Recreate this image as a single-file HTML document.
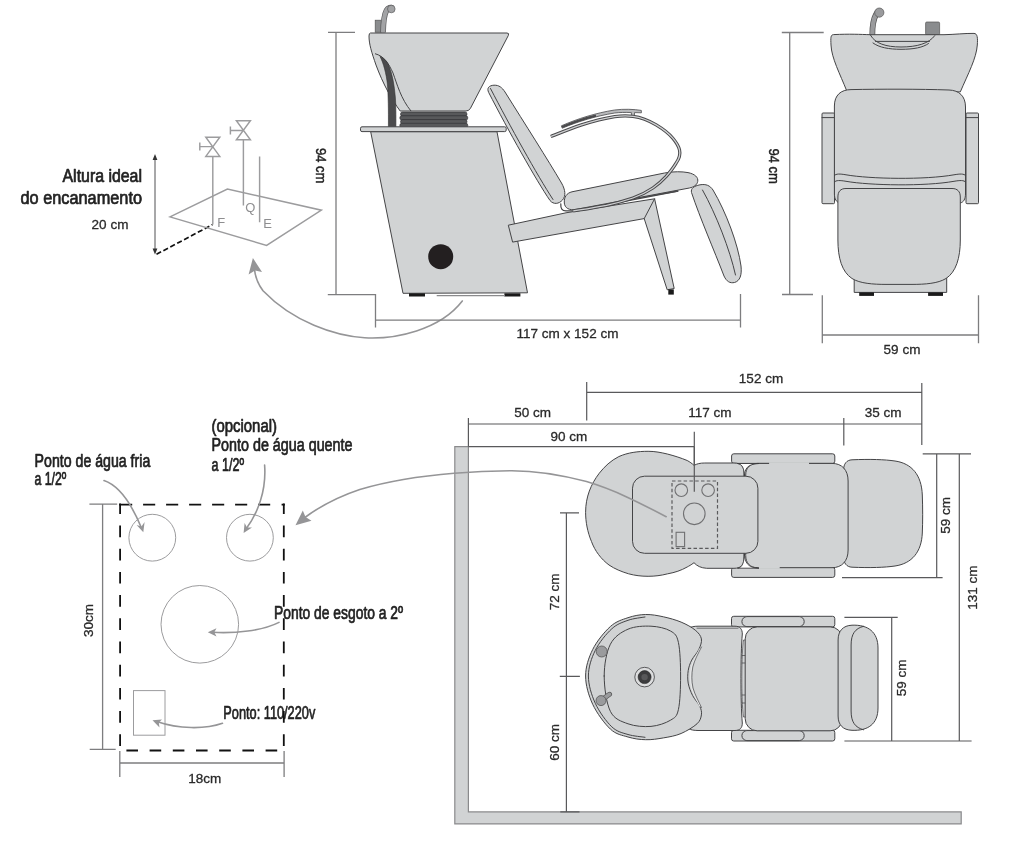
<!DOCTYPE html>
<html>
<head>
<meta charset="utf-8">
<title>Lavatorio - dimensoes</title>
<style>
html,body{margin:0;padding:0;background:#fff;}
body{width:1024px;height:848px;overflow:hidden;font-family:"Liberation Sans",sans-serif;}
svg{display:block;will-change:transform;opacity:0.999;}
text{font-family:"Liberation Sans",sans-serif;}
.lbl{font-size:17.5px;fill:#222;stroke:#222;stroke-width:0.7px;stroke-linejoin:round;}
.dim{font-size:13.5px;fill:#2a2a2a;stroke:#2a2a2a;stroke-width:0.3px;}
.f{fill:#d1d3d4;stroke:#444446;stroke-width:1;stroke-linejoin:round;}
.ln{fill:none;stroke:#444446;stroke-width:1;stroke-linecap:round;stroke-linejoin:round;}
.dl{fill:none;stroke:#7d7d7f;stroke-width:1.3;}
.dk{fill:none;stroke:#59595b;stroke-width:1.2;}
.g{fill:none;stroke:#9c9c9e;stroke-width:1.45;}
.ar{fill:none;stroke:#959597;stroke-width:1.6;stroke-linecap:round;}
.ah{fill:#959597;stroke:none;}
</style>
</head>
<body>
<svg width="1024" height="848" viewBox="0 0 1024 848">
<rect x="0" y="0" width="1024" height="848" fill="#ffffff"/>

<!-- ================= TOP-LEFT : PIPING HEIGHT ================= -->
<g id="piping">
  <text class="lbl" x="142" y="182" text-anchor="end" textLength="79.5" lengthAdjust="spacingAndGlyphs">Altura ideal</text>
  <text class="lbl" x="142" y="203.6" text-anchor="end" textLength="121.5" lengthAdjust="spacingAndGlyphs">do encanamento</text>
  <text class="dim" x="110" y="228.6" text-anchor="middle" fill="#222">20 cm</text>
  <!-- vertical arrow -->
  <path d="M155,157 V252" stroke="#505052" stroke-width="1" fill="none"/>
  <path d="M155,154 L152.6,160 L157.4,160 Z" fill="#333"/>
  <path d="M155,254.5 L152.6,248.5 L157.4,248.5 Z" fill="#333"/>
  <path d="M156.5,254.3 L212.5,224.6" stroke="#111" stroke-width="1.7" stroke-dasharray="5.2 2.6" fill="none"/>
  <!-- floor plane -->
  <path class="g" d="M170,216.9 L227.4,189 L321.4,210.2 L266.6,245.4 Z"/>
  <!-- pipes -->
  <path class="g" d="M212.8,156.4 V224.5 M243.4,139.8 V205.6 M259.6,156.4 V222.2"/>
  <!-- valves -->
  <path class="g" d="M205.8,137.2 H219.8 L205.8,156.4 H219.8 Z M199.6,146.6 H212.8 M199.8,142.6 V150.6" stroke-linejoin="miter"/>
  <path class="g" d="M236.4,120.8 H250.4 L236.4,139.8 H250.4 Z M230.2,130.4 H243.4 M230.4,126.4 V134.4" stroke-linejoin="miter"/>
  <text x="217.3" y="227.4" font-size="13" fill="#8e8e90">F</text>
  <text x="245.3" y="212" font-size="13" fill="#8e8e90">Q</text>
  <text x="263.2" y="228.4" font-size="13" fill="#8e8e90">E</text>
  <!-- curved arrow from cabinet -->
  <path class="ar" d="M462.3,301 C440,330 395,339.500 364.600,337.800 C335,336 293,322 263,290.800 C258,284 255,276 254.300,268"/>
  <path class="ah" d="M252.9,258 L248.6,274.6 L255,270.4 L262,272 Z"/>
</g>

<!-- ================= TOP-CENTER : SIDE VIEW ================= -->
<g id="side">
  <!-- dimension -->
  <path class="dl" d="M328,32.4 H355 M336,32.4 V295 M327.800,294.600 H375.500 V327.600 M375.500,320.200 H740.500 M740.500,294 V327.600"/>
  <text transform="translate(315.600,165.700) rotate(90)" text-anchor="middle" font-size="14" fill="#222" stroke="#222" stroke-width="0.45" textLength="35.500" lengthAdjust="spacingAndGlyphs">94 cm</text>
  <text class="dim" x="567.5" y="337.8" text-anchor="middle" fill="#333">117 cm x 152 cm</text>

  <!-- faucet -->
  <rect x="375.2" y="20.2" width="6" height="12" fill="#8a8c8e" stroke="#555" stroke-width="0.7"/>
  <path d="M383.100,32.500 C383.300,22 384.500,14 386.500,10.300 C388,7.500 391,7 392.500,8.200" fill="none" stroke="#5a5a5c" stroke-width="5.600" stroke-linecap="butt"/>
  <path d="M383.100,32.500 C383.300,22 384.500,14 386.500,10.300 C388,7.500 391,7 392.500,8.200" fill="none" stroke="#a2a3a5" stroke-width="4.300" stroke-linecap="butt"/>
  <circle cx="391.300" cy="9" r="3.800" fill="#a2a3a5" stroke="#5a5a5c" stroke-width="0.7"/>

  <!-- basin -->
  <path class="f" d="M370.500,33 H507 Q509.500,33 508.300,35.500 L470.500,108.200 Q469,111 466,111 H400.200 C392,100 383,84 376,65 C371.500,52 369,44 369,36 Q369,33 370.500,33 Z"/>
  <path class="ln" d="M375.400,53.800 C384,56 389,64 393,73 C397,84 401,99 410.800,110.800"/>
  <!-- hose -->
  <path d="M380,56.400 C383.500,63 386.300,74 387.400,84 C388.300,95 388.500,110 388.400,127.300 H395.900 C396,115 395.900,105 395.300,97 C394.300,85 392.500,74 388.400,64.500 C386.500,60.500 383.500,57.500 380,56.400 Z" fill="#4b4b4d" stroke="#333" stroke-width="0.6"/>
  <!-- bellows -->
  <g fill="#58595b" stroke="#2e2e30" stroke-width="0.6">
    <rect x="400.500" y="112" width="66.500" height="4.200" rx="2"/>
    <rect x="399.800" y="115.800" width="68" height="4.200" rx="2"/>
    <rect x="400.500" y="119.600" width="66.500" height="4.200" rx="2"/>
    <rect x="399.800" y="123.300" width="68" height="4.200" rx="2"/>
  </g>
  <!-- shelf -->
  <rect class="f" x="360.500" y="126.800" width="145.700" height="4.800" rx="1.500"/>
  <!-- cabinet -->
  <path class="f" d="M370.700,131.800 H497 L527.500,292.800 L403,293.300 Z"/>
  <circle cx="440.700" cy="256.700" r="12.500" fill="#231f20"/>
  <rect x="409" y="293.300" width="16" height="3.200" fill="#1a1a1a"/>
  <rect x="504.400" y="293.300" width="16" height="3.200" fill="#1a1a1a"/>
  <path d="M436.700,295.600 H505" stroke="#8a8a8c" stroke-width="1.200" fill="none"/>

  <!-- support beam + leg -->
  <path class="f" d="M508.300,225.200 L566,212.800 L654.600,198.800 L674.200,288.500 L667.200,289.800 L644.200,218.600 L512.600,242.100 Z"/>
  <path class="ln" d="M644.200,218.600 L654.600,198.800"/>
  <rect x="668.300" y="289.400" width="5.500" height="5.200" fill="#1a1a1a"/>

  <!-- seat frame line (under seat) -->
  <path class="ln" d="M560.800,203.800 C560.500,208.500 562,210.800 566,210.900 C570,211 573,211 576,210.600 L678,191.200" style="stroke-width:1.200"/>
  <path d="M619.700,200.300 L677.800,190.600" stroke="#4a4a4c" stroke-width="2.200" fill="none"/>

  <!-- backrest -->
  <path class="f" d="M488.700,92.500 C486.500,88 489,85.500 494,85.200 C499,85 502,87.500 505,92 C525,124 548,160 561.500,183 C565.500,190 566,196 562.500,200 C559,204 553.500,204.800 550,200.500 C536,180 508,130 488.700,92.500 Z"/>
  <path class="ln" d="M490.500,88.500 C510,126 537,175 553,199.500"/>
  <!-- seat cushion -->
  <path class="f" d="M564.300,203 C564,197 566.500,193.200 572,191.800 L664.500,173 C674,171.300 682,171.500 688,172.600 C695,174 698.500,177.500 697.700,181.500 C697,185 694,187 689.400,188 L576,209.400 C569,210.600 564.800,208 564.300,203 Z"/>

  <!-- armrest pad -->
  <path d="M561.400,125.800 C578,118.500 596,113 614.500,110 C624,108.800 634,109.200 641.300,110.400 L641.400,112.800 L634.500,112.600 L634.400,116 L631.400,116 L631.400,112.600 C625,112.200 620,112.500 614.800,113 C596,116 578,121.500 562.200,128.200 Z" fill="#b9babc" stroke="#4a4a4c" stroke-width="0.8" stroke-linejoin="round"/>
  <path d="M562,127 C574,122 585,118.300 596,115.600" stroke="#4a4a4c" stroke-width="2.200" fill="none"/>
  <!-- armrest tube -->
  <path id="tube" d="M550.800,136.500 C561,132.500 571,128.500 581.500,124.900 C592,121.500 603,118.500 614.700,116.600 C621,115.800 627,115.700 633,116.300 C641,117.300 649,120.500 656.200,124.900 C663,129 668.500,133 672.800,138.200 C676,142 678.500,146 679.500,149.800 C680.500,154 679,159 676.100,163.100 C673.500,167.500 670,172 666.200,176.400 C662,181 658,184.500 652.900,188 C647,192 640,195.500 633,198 C624,201 615,203.500 606.400,205.400 C595,207.500 584,209.500 573.200,210.900" fill="none" stroke="#4a4a4c" stroke-width="3.300" stroke-linecap="butt"/>
  <path d="M550.800,136.500 C561,132.500 571,128.500 581.500,124.900 C592,121.500 603,118.500 614.700,116.600 C621,115.800 627,115.700 633,116.300 C641,117.300 649,120.500 656.200,124.900 C663,129 668.500,133 672.800,138.200 C676,142 678.500,146 679.500,149.800 C680.500,154 679,159 676.100,163.100 C673.500,167.500 670,172 666.200,176.400 C662,181 658,184.500 652.900,188 C647,192 640,195.500 633,198 C624,201 615,203.500 606.400,205.400 C595,207.500 584,209.500 573.200,210.900" fill="none" stroke="#cfd0d2" stroke-width="1.300" stroke-linecap="butt"/>

  <!-- legrest -->
  <path class="f" d="M691.500,192.500 C690.500,188.500 694,186 700,184.800 C706,183.800 710,185.500 713,190 C726,212 738,244 741,266 C742,275 740,281 734.500,282.500 C730,283.500 726.500,281.500 724,276 C714,250 700,218 691.500,192.500 Z"/>
  <path class="ln" d="M702.500,190 C716,214 730,250 735.500,275"/>
</g>


<!-- ================= TOP-RIGHT : FRONT VIEW ================= -->
<g id="front">
  <path class="dl" d="M781.800,32.500 H823.700 M789.700,32.500 V294.500 M782,294.500 H813 M822.300,295.300 V343.300 M978.500,295.300 V343.300 M822.300,335 H978.500"/>
  <text transform="translate(768.800,166.200) rotate(90)" text-anchor="middle" font-size="14" fill="#222" stroke="#222" stroke-width="0.45" textLength="35.500" lengthAdjust="spacingAndGlyphs">94 cm</text>
  <text class="dim" x="902" y="353.700" text-anchor="middle" fill="#333">59 cm</text>

  <!-- faucet -->
  <path d="M872.300,35 C872.300,27 873.500,19 876,14.500 C877.500,12 879,11.500 880,12" fill="none" stroke="#555" stroke-width="5.800"/>
  <path d="M872.300,35 C872.300,27 873.500,19 876,14.500 C877.500,12 879,11.500 880,12" fill="none" stroke="#9a9b9d" stroke-width="4.400"/>
  <circle cx="879.300" cy="12.600" r="4.600" fill="#9a9b9d" stroke="#555" stroke-width="0.7"/>
  <!-- knob -->
  <rect x="925.600" y="22" width="14" height="13" rx="1.200" fill="#8a8c8e" stroke="#555" stroke-width="0.7"/>
  <!-- basin -->
  <path class="f" d="M833.500,34.600 C850,33.800 860,34.400 870,34.700 H944 C955,34.500 965,33.200 974,33.400 C977.500,33.500 977.800,38 977.300,45 C976.500,58 968,74 960.300,91.900 L846.800,91 C840,74 831.500,58 831,45 C830.700,38 830.500,34.800 833.500,34.600 Z"/>
  <path class="ln" d="M870.500,35.200 C875,43.500 886,47 901,47 C917,47 929,43.500 934.800,35.600"/>
  <path class="ln" d="M875.500,41.400 H929.500"/>
  <path class="ln" d="M873,43 C879,47.500 889,49.300 901,49.300 C914,49.300 923,47.500 928.500,43.500"/>
  <!-- side armrests -->
  <rect class="f" x="822" y="113" width="12.500" height="90.700" rx="1"/>
  <rect class="f" x="966" y="113" width="12.500" height="90.700" rx="1"/>
  <path class="ln" d="M822,117.600 H834.500 M966,117.600 H978.500"/>
  <!-- backrest -->
  <path class="f" d="M834.400,194 V106 C834.400,95 841,89.700 851,89.600 C880,89 920,89 949,90 C959,90.300 965.500,96 965.500,107 V194 C965.500,199 963.500,202.500 960,203 H840 C836.500,202.500 834.400,199 834.400,194 Z"/>
  <path class="ln" d="M834.400,175.500 C836,173.500 840,173.800 846,174.800 C870,179 925,180 954,174.800 C960,173.800 964,173.500 965.500,175.500"/>
  <path class="ln" d="M834.400,182 C836,180 840,180.300 846,181.300 C870,185.500 925,186.500 954,181.300 C960,180.300 964,180 965.500,182"/>
  <!-- base -->
  <rect class="f" x="854.200" y="275" width="92.500" height="17.400"/>
  <rect x="859.200" y="292.400" width="14.800" height="3.500" fill="#1a1a1a"/>
  <rect x="928.100" y="292.400" width="14.900" height="3.500" fill="#1a1a1a"/>
  <!-- seat/legrest -->
  <path class="f" d="M846,188.500 H952 C957.500,188.500 960.300,191.500 960.300,197 V240 C960.300,258 956,272 946,278.500 C938,283.500 925,284.400 912,284.400 H886 C873,284.400 860,283.500 852,278.500 C842,272 837.900,258 837.900,240 V197 C837.900,191.500 840.500,188.500 846,188.500 Z"/>
</g>

<!-- ================= BOTTOM-LEFT : DETAIL ================= -->
<g id="detail">
  <text class="lbl" x="211.500" y="431.600" textLength="65.500" lengthAdjust="spacingAndGlyphs">(opcional)</text>
  <text class="lbl" x="211.500" y="451.300" textLength="141" lengthAdjust="spacingAndGlyphs">Ponto de água quente</text>
  <text class="lbl" x="211.500" y="470.900" textLength="32.500" lengthAdjust="spacingAndGlyphs">a 1/2º</text>
  <text class="lbl" x="34.600" y="467.400" textLength="115.700" lengthAdjust="spacingAndGlyphs">Ponto de água fria</text>
  <text class="lbl" x="34.500" y="485.300" textLength="31.800" lengthAdjust="spacingAndGlyphs">a 1/2º</text>
  <text class="lbl" x="274.100" y="619.400" textLength="129" lengthAdjust="spacingAndGlyphs">Ponto de esgoto a 2º</text>
  <text class="lbl" x="223.300" y="718.800" textLength="92" lengthAdjust="spacingAndGlyphs">Ponto: 110/220v</text>

  <!-- dims -->
  <path class="dl" d="M89.400,504.200 H117.200 M102.600,504.200 V749.300 M89.700,749.300 H115.700 M119.800,751 V777 M284.100,751 V777 M119.800,763 H284.100"/>
  <text class="dim" transform="translate(92.800,620.500) rotate(-90)" text-anchor="middle" fill="#2a2a2a" stroke="#2a2a2a" stroke-width="0.3" font-size="13.500">30cm</text>
  <text class="dim" x="204.700" y="783.400" text-anchor="middle" fill="#2a2a2a" stroke="#2a2a2a" stroke-width="0.3" font-size="13.500">18cm</text>

  <!-- dashed box -->
  <g fill="none" stroke="#111" stroke-width="1.8">
    <path d="M119.100,504.600 H284.800" stroke-dasharray="13.100 10.900 12.100 10.900 12.100 10.900 12.100 10.900 12.100 10.900 12.100 10.900 12.100 11.400 4"/>
    <path d="M126.400,750.500 H277.400" stroke-dasharray="11.600 11.600"/>
    <path d="M120.100,503.600 V750 M283.800,503.600 V750" stroke-dasharray="11.700 11.500" stroke-dashoffset="1.300"/>
  </g>

  <!-- circles -->
  <circle class="g" cx="152.300" cy="537.700" r="23.400" stroke="#a6a6a8" style="stroke-width:1"/>
  <circle class="g" cx="249.900" cy="537.700" r="23.400" stroke="#a6a6a8" style="stroke-width:1"/>
  <circle class="g" cx="199.800" cy="624.300" r="38.800" stroke="#a6a6a8" style="stroke-width:1"/>
  <rect class="g" x="133.500" y="690.600" width="31.500" height="44.600" stroke="#a6a6a8" style="stroke-width:1"/>

  <!-- label arrows -->
  <path class="ar" d="M104,480.600 C120,486 132,505 141.500,528"/>
  <path class="ah" d="M143.300,532.300 L136.600,525 L141.500,526.500 L144.600,522 Z"/>
  <path class="ar" d="M264.600,465 C266.500,490 258,513 246,529"/>
  <path class="ah" d="M243.600,533 L244.600,523 L247,527.500 L252,527.500 Z"/>
  <path class="ar" d="M279,622.400 C262,631 235,633.500 212.500,632.300"/>
  <path class="ah" d="M207.800,632.200 L216.500,628.200 L214.300,632.300 L216.500,636.600 Z"/>
  <path class="ar" d="M222.500,723.300 C205,729.500 178,729 157.500,721.800"/>
  <path class="ah" d="M152.500,720.300 L162,719.500 L158.800,722.500 L159.500,727.500 Z"/>

</g>

<!-- ================= BOTTOM-RIGHT : PLAN VIEW ================= -->
<g id="plan">
  <!-- wall -->
  <path d="M454.800,446.600 H468.400 V811.900 H961.200 V823.900 H454.800 Z" fill="#d1d3d4" stroke="#8a8a8c" stroke-width="1.200"/>

  <!-- dims -->
  <path class="dk" d="M586.700,392.300 H921.800 M586.700,382 V420.500 M921.800,383 V445 M468.400,424 H921.800 M468.400,418 V446.400 M843.800,418 V445.500 M468.400,446.700 H694.300 M694.300,431.800 V491.800"/>
  <path class="dk" d="M922.700,453.800 H971 M936.700,453.800 V577.700 M842,577.700 H942.600 M959.300,453.800 V741 M844.400,617.300 H897.700 M891.700,617.300 V741 M844.400,741 H971.600"/>
  <path class="dk" d="M560,512.900 H579 M566.400,512.900 V811.900 M559.800,676.300 H579.900 M560.300,811.900 H579.500"/>
  <text class="dim" x="761" y="383.400" text-anchor="middle">152 cm</text>
  <text class="dim" x="532.600" y="417.100" text-anchor="middle">50 cm</text>
  <text class="dim" x="709.900" y="417.100" text-anchor="middle">117 cm</text>
  <text class="dim" x="883.100" y="417.100" text-anchor="middle">35 cm</text>
  <text class="dim" x="568.900" y="441.200" text-anchor="middle">90 cm</text>
  <text class="dim" transform="translate(950.200,515.300) rotate(-90)" text-anchor="middle">59 cm</text>
  <text class="dim" transform="translate(976.700,587.700) rotate(-90)" text-anchor="middle">131 cm</text>
  <text class="dim" transform="translate(906.400,677.900) rotate(-90)" text-anchor="middle">59 cm</text>
  <text class="dim" transform="translate(559.300,591.800) rotate(-90)" text-anchor="middle">72 cm</text>
  <text class="dim" transform="translate(559.300,742.300) rotate(-90)" text-anchor="middle">60 cm</text>

  <!-- ===== upper chair (underside) ===== -->
  <rect class="f" x="731.600" y="453.800" width="103.200" height="9.600" rx="2.200"/>
  <rect class="f" x="731.600" y="567.400" width="103.200" height="10" rx="2.200"/>
  <!-- basin outer shape with neck -->
  <path class="f" d="M694,465.400 C697,463.800 700,463 704.800,463 H734 C741,463 744,466.500 744,472.500 V559 C744,565 741,568.300 734,568.300 H706.700 C701,568 697,566 694,562.700 C691,565 689,566 687.200,567 C681,570.500 675,572.500 667.700,573.800 C661,575.500 655,576.300 648.100,576.300 C641,576.300 635,575.500 628.600,573.800 C621,571.500 615,569 609,565 C601,559 595,551 591.500,541.600 C587.500,532 585.600,522 585.600,512.300 C585.600,497 591,484 599.300,473.200 C604.500,466.500 611,460.500 618.800,456.600 C628,452.500 638,451.300 648.100,451.300 C655,451.300 661,452.500 667.700,454.100 C675,456 681,458 687.200,460.500 C690,462 692,463.500 694,465.400 Z"/>
  <!-- legrest -->
  <path class="f" d="M852,459.800 C870,459 885,459.500 895,461 C912,463.500 921.500,475 922.300,495 C922.800,508 922.800,522 922.300,533 C921.500,552 912,563.500 895,566 C885,567.500 870,568 852,567.200 C846.500,567 843.600,563 843.600,557 V470 C843.600,464 846.500,460 852,459.800 Z"/>
  <!-- seat -->
  <path class="f" d="M757.500,463.400 H832 C842,463.400 848.100,470 848.100,481 V550 C848.100,561 842,567.700 832,567.700 H757.500 C750,567.700 745.700,563 745.700,555.500 V475 C745.700,468 750,463.400 757.500,463.400 Z"/>
  <path d="M769.100,463.400 H809 M758.600,567.600 H779.700" stroke="#d1d3d4" stroke-width="2.200" fill="none"/>
  <!-- white gaps between neck, seat and armrests -->
  <path d="M737.500,463.500 C742.500,464 744.200,469 744.400,476.300 C744.800,469 747,464 759,463.500 Z" fill="#fff" stroke="#3a3a3c" stroke-width="0.9" stroke-linejoin="round"/>
  <path d="M737.500,568.200 C742.500,567.700 744.200,562 744.400,553.200 C744.800,562 747,567.700 759,568.200 Z" fill="#fff" stroke="#3a3a3c" stroke-width="0.9" stroke-linejoin="round"/>
  <!-- inner plate -->
  <rect class="f" x="632.500" y="476.200" width="125.400" height="77.100" rx="12"/>
  <!-- dashed box & points -->
  <rect x="672" y="481" width="45.500" height="67.400" fill="none" stroke="#5a5a5c" stroke-width="1.200" stroke-dasharray="3.500 2.300"/>
  <g fill="none" stroke="#707072" stroke-width="1.100">
    <circle cx="681.300" cy="490.200" r="6.300"/>
    <circle cx="708.100" cy="490.200" r="6.300"/>
    <circle cx="694.300" cy="513.800" r="10.800"/>
    <rect x="676.100" y="532.300" width="8.500" height="14.300"/>
  </g>
  <path class="dk" d="M694.300,446.700 V491.800"/>

  <!-- ===== lower chair (top view) ===== -->
  <rect class="f" x="731.500" y="616.300" width="103.300" height="10.600" rx="2.200"/>
  <rect class="f" x="741.900" y="616.600" width="62.300" height="10" rx="5"/>
  <rect class="f" x="731.500" y="730.300" width="103.300" height="10.700" rx="2.200"/>
  <rect class="f" x="741.900" y="730.600" width="62.300" height="10" rx="5"/>
  <!-- neck cushion (behind basin) -->
  <path class="f" d="M684,634 C686,628.500 690,626.300 698,626.200 H735 C740,626.300 742.300,629 742.300,634 C740.500,655 740.500,702 742.300,723 C742.300,728 740,730.400 735,730.500 H698 C690,730.400 686,728.500 684,723 Z"/>
  <path class="ln" d="M697,628.200 H738" style="stroke-width:0.7"/>
  <!-- basin outer -->
  <path class="f" d="M585.6,676.0 C585.6,666.9 588.6,657.8 592.7,649.5 C596.8,641.2 604.5,631.8 610.4,626.5 C616.3,621.2 622.1,619.7 628.0,617.7 C633.9,615.7 639.8,614.6 645.7,614.5 C651.6,614.4 657.5,615.5 663.4,616.8 C669.3,618.1 675.8,619.9 681.1,622.1 C686.4,624.3 691.8,627.3 695.2,630.1 C698.6,632.9 700.8,635.7 701.4,638.9 C702.0,642.1 700.4,646.0 698.8,649.5 C697.2,653.0 693.5,656.6 691.7,660.1 C689.9,663.6 688.8,666.9 688.2,670.7 C687.6,674.5 687.5,679.0 688.2,683.1 C688.9,687.2 690.7,691.7 692.6,695.5 C694.5,699.3 698.2,702.9 699.7,706.1 C701.2,709.3 701.9,712.0 701.4,714.9 C700.9,717.8 700.4,720.7 697.0,723.8 C693.6,726.9 686.7,731.1 681.1,733.5 C675.5,735.9 669.3,736.9 663.4,737.9 C657.5,738.9 651.6,739.9 645.7,739.7 C639.8,739.6 633.9,738.8 628.0,737.0 C622.1,735.2 616.3,734.6 610.4,729.1 C604.5,723.6 596.8,713.1 592.7,704.3 C588.6,695.4 585.6,685.1 585.6,676.0 Z"/>
  <path class="ln" d="M645.0,617.0 C642.2,617.5 633.5,618.3 628.0,620.3 C622.5,622.3 617.2,623.8 611.8,628.8 C606.3,633.8 599.2,642.4 595.3,650.3 C591.4,658.2 588.4,667.2 588.4,676.0 C588.4,684.8 591.4,694.8 595.3,703.3 C599.2,711.8 606.3,721.6 611.8,726.8 C617.2,732.0 622.5,732.8 628.0,734.5 C633.5,736.2 642.2,736.8 645.0,737.3"/>
  <path d="M700.300,648.500 C697,655 693.500,660.500 691.600,667 C690.300,674 690.300,681 691.800,688 C693.800,695 697.500,700.500 700.300,706.500" fill="none" stroke="#e4e5e6" stroke-width="1.600"/>
  <path class="ln" d="M701.500,647 C698,654 694.500,660 692.800,667 C691.500,674 691.500,681 693,688 C695,695 698.500,701 701.500,707.500" style="stroke-width:0.7"/>
  <!-- inner bowl -->
  <path class="ln" d="M604.2,676.0 C604.2,664.8 606.4,652.0 610.4,644.2 C614.4,636.4 621.2,632.2 628.0,629.2 C634.8,626.2 643.9,625.9 651.0,626.2 C658.1,626.5 665.9,628.3 670.5,631.0 C675.1,633.7 676.7,634.9 678.4,642.4 C680.1,649.9 680.6,664.8 680.6,676.0 C680.6,687.2 680.1,702.2 678.4,709.6 C676.7,717.0 675.1,717.4 670.5,720.2 C665.9,723.0 658.1,725.8 651.0,726.4 C643.9,727.0 634.8,726.3 628.0,723.8 C621.2,721.3 614.4,719.4 610.4,711.4 C606.4,703.4 604.2,687.2 604.2,676.0 Z"/>
  <!-- drain -->
  <circle cx="644.600" cy="677.100" r="9.800" fill="#dcddde" stroke="#3a3a3c" stroke-width="0.8"/>
  <circle cx="644.600" cy="677.100" r="6.500" fill="#3c3c3e" stroke="#222" stroke-width="0.6"/>
  <circle cx="644.600" cy="677.100" r="3.200" fill="#58585a"/>
  <!-- knob + faucet -->
  <circle cx="601.700" cy="651.500" r="5.500" fill="#9a9b9d" stroke="#555" stroke-width="0.8"/>
  <path d="M601.500,700 L609.500,694.300" stroke="#555" stroke-width="5" stroke-linecap="round" fill="none"/>
  <path d="M601.500,700 L609.500,694.300" stroke="#9a9b9d" stroke-width="3.600" stroke-linecap="round" fill="none"/>
  <circle cx="601" cy="700.600" r="5" fill="#9a9b9d" stroke="#555" stroke-width="0.8"/>
  <!-- hinge -->
  <path class="f" d="M743.500,640 C741.500,652 741,700 743.500,717 L746.500,717 V640 Z" style="stroke-width:0.7"/>
  <path class="ln" d="M742.300,655.500 H746 M742.300,663 H746 M742.300,695 H746 M742.300,703 H746" style="stroke-width:0.7"/>
  <!-- seat -->
  <rect class="f" x="745.200" y="626.900" width="97" height="103.900" rx="12"/>
  <!-- folded legrest -->
  <path class="f" d="M852,625.200 C868,624.500 878,632 878,648 V708 C878,724 868,731 852,730.300 C843,730 838.100,725 838.100,716 V640 C838.100,631 843,625.500 852,625.200 Z"/>
  <path class="ln" d="M863.500,626.300 C855,628.500 851.100,634 851.100,645 V711 C851.100,722 855,727.500 863.500,729.800"/>
</g>

<g id="bigarrow">
  <path class="ar" d="M666.200,516.700 C640,503 615,490 586.500,481.600 C560,474.500 535,470.500 510,470.700 C490,471 470,472 454.200,473.200 C420,476 385,482 359.800,489.400 C340,496 320,506 303.500,518.500"/>
  <path class="ah" d="M295.500,525.200 L302.800,510.500 L305.500,517 L311.500,520.800 Z"/>
</g>


</svg>
</body>
</html>
